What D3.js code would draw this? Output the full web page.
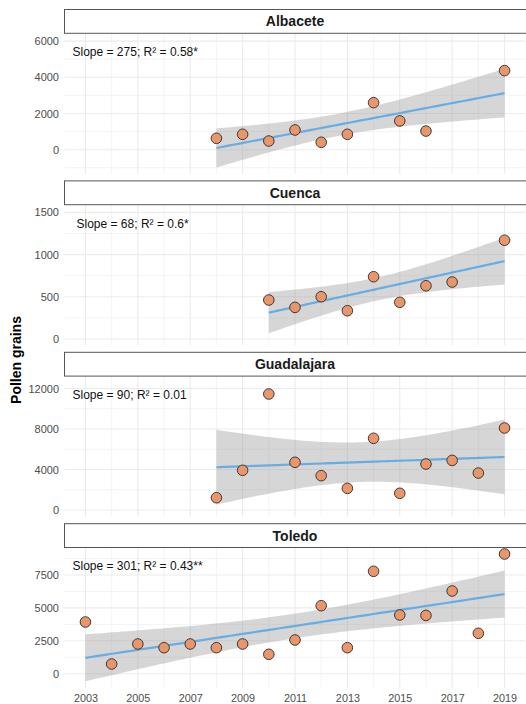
<!DOCTYPE html>
<html>
<head>
<meta charset="utf-8">
<script src="https://cdn.jsdelivr.net/npm/d3@7"></script>
<style>
  html, body { margin: 0; padding: 0; background: #fff; }
  svg { display: block; font-family: "Liberation Sans", Arial, Helvetica, sans-serif; }
</style>
</head>
<body>
<svg id="chart" width="526" height="704"></svg>
<script>
// Annual pollen totals per province
const provinces = ["Albacete", "Cuenca", "Guadalajara", "Toledo"];

const albaceteYears  = [2008, 2009, 2010, 2011, 2012, 2013, 2014, 2015, 2016, 2019];
const albaceteGrains = [630, 850, 480, 1090, 410, 850, 2600, 1590, 1030, 4370];

const cuencaYears  = [2010, 2011, 2012, 2013, 2014, 2015, 2016, 2017, 2019];
const cuencaGrains = [462, 375, 501, 335, 738, 435, 631, 675, 1170];

const guadalajaraYears  = [2008, 2009, 2010, 2011, 2012, 2013, 2014, 2015, 2016, 2017, 2018, 2019];
const guadalajaraGrains = [1215, 3920, 11457, 4710, 3390, 2140, 7080, 1650, 4540, 4900, 3650, 8100];

const toledoYears  = [2003, 2004, 2005, 2006, 2007, 2008, 2009, 2010, 2011, 2012, 2013, 2014, 2015, 2016, 2017, 2018, 2019];
const toledoGrains = [3929, 737, 2257, 1976, 2257, 1976, 2257, 1474, 2561, 5167, 1976, 7781, 4460, 4430, 6284, 3070, 9096];

// Trend annotations
const fitLabels = [
  "Slope = 275; R\u00B2 = 0.58*",
  "Slope = 68; R\u00B2 = 0.6*",
  "Slope = 90; R\u00B2 = 0.01",
  "Slope = 301; R\u00B2 = 0.43**"
];

// Axis ticks and limits
const xTicks = [2003, 2005, 2007, 2009, 2011, 2013, 2015, 2017, 2019];
const xLimits = [2002.2, 2019.8];
const yTicks = [
  [0, 2000, 4000, 6000],
  [0, 500, 1000, 1500],
  [0, 4000, 8000, 12000],
  [0, 2500, 5000, 7500]
];
const yLimits = [
  [-1326, 6431],
  [-72, 1591],
  [-642, 13225],
  [-1079, 9590]
];

// Two-sided 95% t critical values by residual degrees of freedom
const tCrit = {7: 2.364624, 8: 2.306004, 10: 2.228139, 15: 2.131450};

const series = [
  {years: albaceteYears, grains: albaceteGrains},
  {years: cuencaYears, grains: cuencaGrains},
  {years: guadalajaraYears, grains: guadalajaraGrains},
  {years: toledoYears, grains: toledoGrains}
];

// Ordinary least squares with a 95% confidence band
function linearFit(xs, ys) {
  const n = xs.length;
  const mx = d3.mean(xs), my = d3.mean(ys);
  let sxx = 0, sxy = 0;
  for (let i = 0; i < n; i++) {
    sxx += (xs[i] - mx) ** 2;
    sxy += (xs[i] - mx) * (ys[i] - my);
  }
  const b = sxy / sxx, a = my - b * mx;
  let sse = 0;
  for (let i = 0; i < n; i++) sse += (ys[i] - (a + b * xs[i])) ** 2;
  const sigma = Math.sqrt(sse / (n - 2));
  const t = tCrit[n - 2];
  const [x0, x1] = d3.extent(xs);
  return d3.range(80).map(k => {
    const x = x0 + (x1 - x0) * k / 79;
    const yhat = a + b * x;
    const se = sigma * Math.sqrt(1 / n + (x - mx) ** 2 / sxx);
    return {x, y: yhat, lo: yhat - t * se, hi: yhat + t * se};
  });
}

const svg = d3.select("#chart");

const left = 64.5, right = 525.5;
const firstStripTop = 9.5, panelStep = 171.4, stripH = 23.8, plotH = 140.4;

const x = d3.scaleLinear().domain(xLimits).range([left, right]);
const xMinor = d3.range(2002, 2020, 2).filter(v => v > xLimits[0] && v < xLimits[1]);

provinces.forEach((name, i) => {
  const stripTop = firstStripTop + i * panelStep;
  const plotTop = stripTop + stripH;
  const plotBottom = plotTop + plotH;
  const y = d3.scaleLinear().domain(yLimits[i]).range([plotBottom, plotTop]);
  const g = svg.append("g");

  // minor grid
  const ticks = yTicks[i];
  const step = ticks[1] - ticks[0];
  const yMinor = d3.range(ticks[0] - step * 2 + step / 2, ticks[ticks.length - 1] + step * 2, step)
    .filter(v => v > yLimits[i][0] && v < yLimits[i][1]);
  g.selectAll(".ymin").data(yMinor).join("line")
    .attr("x1", left).attr("x2", right)
    .attr("y1", d => y(d)).attr("y2", d => y(d))
    .attr("stroke", "#F2F2F2").attr("stroke-width", 0.9);
  g.selectAll(".xmin").data(xMinor).join("line")
    .attr("x1", d => x(d)).attr("x2", d => x(d))
    .attr("y1", plotTop).attr("y2", plotBottom)
    .attr("stroke", "#F2F2F2").attr("stroke-width", 0.9);

  // major grid
  g.selectAll(".ymaj").data(ticks).join("line")
    .attr("x1", left).attr("x2", right)
    .attr("y1", d => y(d)).attr("y2", d => y(d))
    .attr("stroke", "#EBEBEB").attr("stroke-width", 1.1);
  g.selectAll(".xmaj").data(xTicks).join("line")
    .attr("x1", d => x(d)).attr("x2", d => x(d))
    .attr("y1", plotTop).attr("y2", plotBottom)
    .attr("stroke", "#EBEBEB").attr("stroke-width", 1.1);

  // y axis labels
  const yAxis = d3.axisLeft(y).tickValues(ticks).tickSize(0).tickPadding(5.5).tickFormat(d3.format("d"));
  const ya = g.append("g").attr("transform", `translate(${left},0)`).call(yAxis);
  ya.select(".domain").remove();
  ya.selectAll("text").attr("fill", "#4D4D4D").style("font-size", "11px")
    .style("font-family", "'Liberation Sans', Arial, sans-serif");

  // regression band and line
  const s = series[i];
  const fit = linearFit(s.years, s.grains);
  g.append("path").datum(fit)
    .attr("d", d3.area().x(d => x(d.x)).y0(d => y(d.lo)).y1(d => y(d.hi)))
    .attr("fill", "#999999").attr("fill-opacity", 0.4);
  g.append("path").datum(fit)
    .attr("d", d3.line().x(d => x(d.x)).y(d => y(d.y)))
    .attr("fill", "none").attr("stroke", "#66ADE5").attr("stroke-width", 2.2);

  // observations
  g.selectAll(".pt").data(s.years.map((yr, k) => ({yr, v: s.grains[k]}))).join("circle")
    .attr("cx", d => x(d.yr)).attr("cy", d => y(d.v)).attr("r", 5.3)
    .attr("fill", "#EA966B").attr("stroke", "#2B2B2B").attr("stroke-width", 0.9);

  // annotation
  g.append("text")
    .attr("x", i === 1 ? 76.5 : 72.5).attr("y", plotTop + 18.5 + 4.3)
    .attr("fill", "#111").style("font-size", "12px")
    .text(fitLabels[i]);

  // strip
  g.append("rect")
    .attr("x", left).attr("y", stripTop).attr("width", 600).attr("height", stripH)
    .attr("fill", "#fff").attr("stroke", "#555").attr("stroke-width", 1);
  g.append("text")
    .attr("x", (left + right) / 2).attr("y", stripTop + stripH / 2 + 5)
    .attr("text-anchor", "middle").attr("fill", "#1A1A1A")
    .style("font-size", "14px").style("font-weight", "bold")
    .text(name);

  // x axis labels on the bottom panel
  if (i === provinces.length - 1) {
    const xAxis = d3.axisBottom(x).tickValues(xTicks).tickSize(0).tickPadding(6).tickFormat(d3.format("d"));
    const xa = g.append("g").attr("transform", `translate(0,${plotBottom})`).call(xAxis);
    xa.select(".domain").remove();
    xa.selectAll("text").attr("fill", "#4D4D4D").style("font-size", "10.8px")
      .style("font-family", "'Liberation Sans', Arial, sans-serif");
  }
});

// y axis title
svg.append("text")
  .attr("transform", "translate(20.5,360) rotate(-90)")
  .attr("text-anchor", "middle").attr("fill", "#000")
  .style("font-size", "14px").style("font-weight", "bold")
  .text("Pollen grains");
</script>
</body>
</html>
